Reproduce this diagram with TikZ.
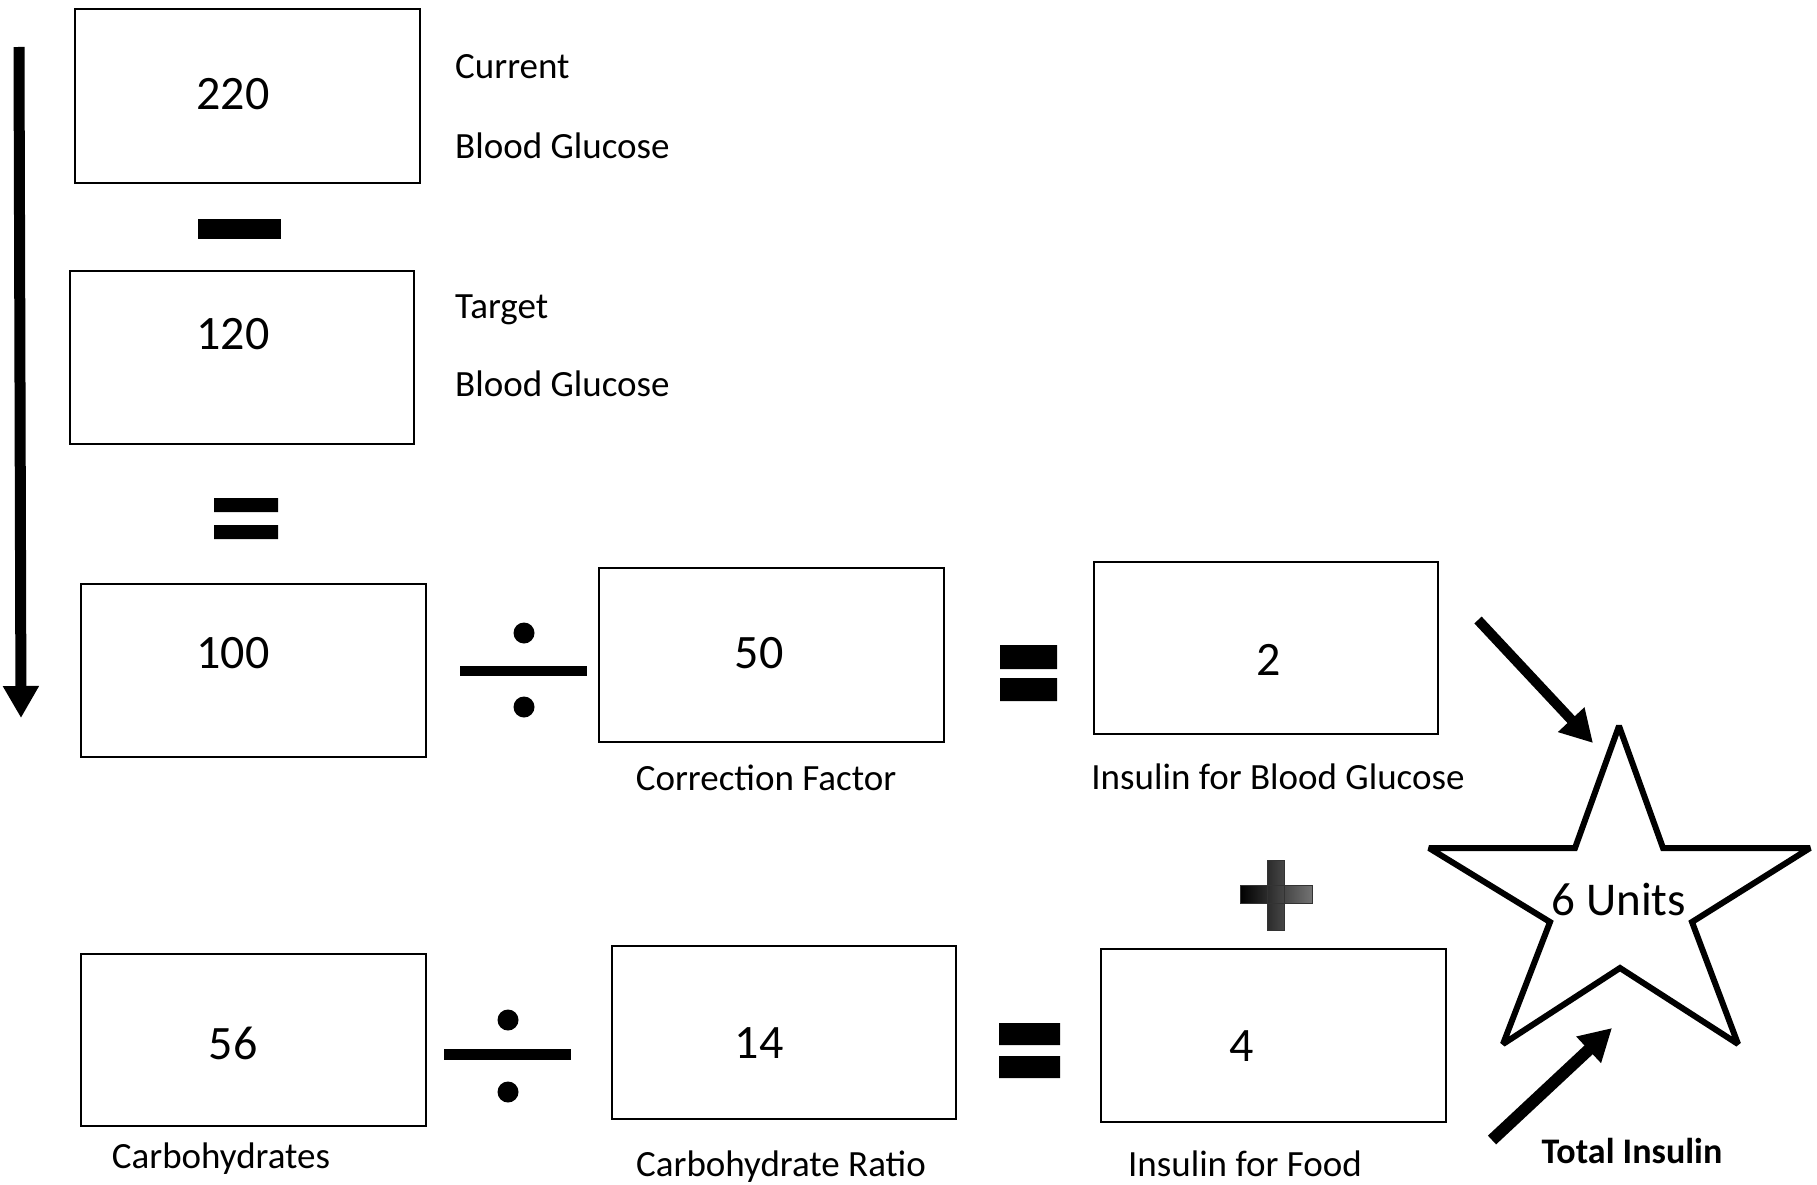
\documentclass[tikz,border=0pt]{standalone}
\usepackage{fontspec}
\setmainfont{Carlito}
\usetikzlibrary{arrows.meta,positioning}

\begin{document}
\begin{tikzpicture}[x=1pt,y=-1pt,
  valbox/.style={rectangle,draw,line width=1.8pt,inner sep=0pt},
  num/.style={font=\fontsize{48}{58}\selectfont,inner sep=0pt},
  lbl/.style={font=\fontsize{37}{44}\selectfont,inner sep=0pt},
  bigarrow/.style={-{Triangle[length=32pt,width=34pt]},line width=11pt},
  opsign/.style={fill=black}]
\useasboundingbox (0,0) rectangle (1817,1185);

% Blood glucose column
\node[valbox,minimum width=345pt,minimum height=174pt] (b220) at (247.5,96) {};
\node[num] (n220) at (233,94) {220};
\node[lbl,anchor=base west] (current) at (455,79) {Current};
\node[lbl,anchor=base west] (bg1) at (455,159) {Blood Glucose};
\fill[opsign] (198,219) rectangle (281,239);

\node[valbox,minimum width=344pt,minimum height=173pt] (b120) at (242,357.5) {};
\node[num] (n120) at (233,334) {120};
\node[lbl,anchor=base west] (target) at (455,318) {Target};
\node[lbl,anchor=base west] (bg2) at (455,396) {Blood Glucose};
\fill[opsign] (214,498) rectangle (278,512) (214,525) rectangle (278,539);

% Correction row
\node[valbox,minimum width=345pt,minimum height=173pt] (b100) at (253.5,670.5) {};
\node[num] (n100) at (233,653) {100};
\fill[opsign] (460,666) rectangle (587,676);
\fill[opsign] (524,633) circle (10.5) (524,707) circle (10.5);
\node[valbox,minimum width=345pt,minimum height=174pt] (b50) at (771.5,655) {};
\node[num] (n50) at (759,653) {50};
\node[lbl,anchor=base] (cf) at (766,790) {Correction Factor};
\fill[opsign] (1000,645) rectangle (1057,669) (1000,678) rectangle (1057,701);
\node[valbox,minimum width=344pt,minimum height=172pt] (b2) at (1266,648) {};
\node[num] (n2) at (1269,660) {2};
\node[lbl,anchor=base] (ibg) at (1278,789) {Insulin for Blood Glucose};

% Food row
\node[valbox,minimum width=345pt,minimum height=172pt] (b56) at (253.5,1040) {};
\node[num] (n56) at (233,1043) {56};
\node[lbl,anchor=base] (carb) at (221,1168) {Carbohydrates};
\fill[opsign] (444,1049) rectangle (571,1060);
\fill[opsign] (508,1020) circle (10.5) (508,1092) circle (10.5);
\node[valbox,minimum width=344pt,minimum height=173pt] (b14) at (784,1032.5) {};
\node[num] (n14) at (759,1043) {14};
\node[lbl,anchor=base] (cr) at (781,1176) {Carbohydrate Ratio};
\fill[opsign] (999,1023) rectangle (1060,1045) (999,1056) rectangle (1060,1078);
\node[valbox,minimum width=345pt,minimum height=173pt] (b4) at (1273.5,1035.5) {};
\node[num] (n4) at (1242,1046) {4};
\node[lbl,anchor=base] (ifood) at (1245,1176) {Insulin for Food};
\shade[left color=black,right color=black!55,draw=black!80,line width=0.8pt]
  (1267,860) rectangle (1284,930) (1240,885) rectangle (1312,903);

% Total
\draw[line width=6pt,miter limit=1.6] (1619,726) -- (1663,848) -- (1810,848) -- (1692,922)
  -- (1738,1044) -- (1620,968) -- (1503,1044) -- (1550,922) -- (1429,848) -- (1575,848) -- cycle;
\node[font=\fontsize{47}{56}\selectfont,inner sep=0pt] (units) at (1619,899) {6 Units};
\node[font=\bfseries\fontsize{36}{44}\selectfont,inner sep=0pt,anchor=base] (total) at (1632,1163) {Total Insulin};

\coordinate (downtop) at (19,47);
\coordinate (downend) at (21,718);
\coordinate (bgtail) at (1478,620);
\coordinate (bgtip) at (1593,743);
\coordinate (foodtail) at (1492,1140);
\coordinate (foodtip) at (1612,1028);
\draw[bigarrow] (downtop) -- (downend);
\draw[bigarrow,line width=10pt] (bgtail) -- (bgtip);
\draw[bigarrow,line width=12pt] (foodtail) -- (foodtip);
\end{tikzpicture}
\end{document}
